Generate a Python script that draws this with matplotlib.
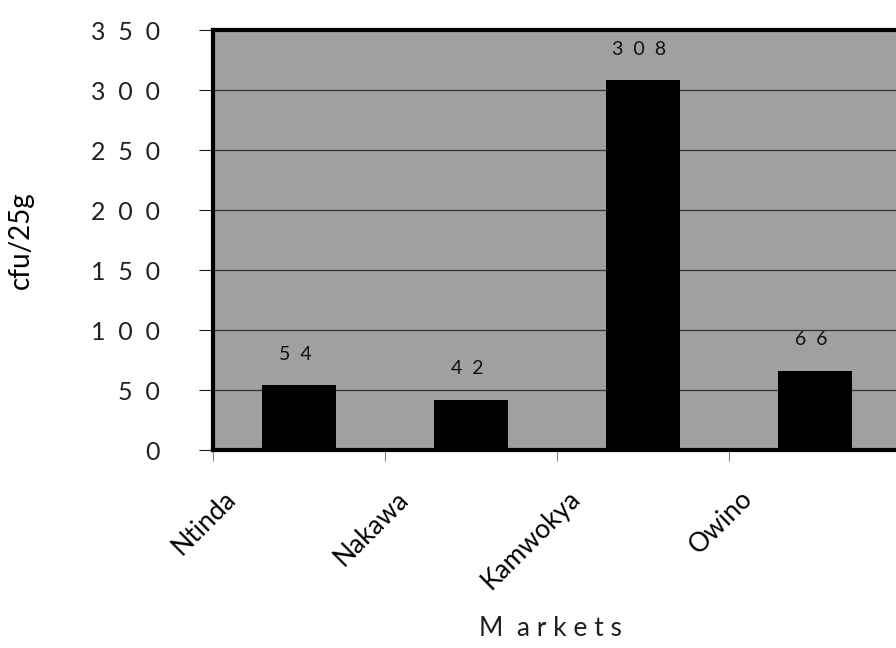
import matplotlib.pyplot as plt
from matplotlib.ticker import FixedLocator

markets = ['Ntinda', 'Nakawa', 'Kamwokya', 'Owino']
counts = [54, 42, 308, 66]
y_ticks = [0, 50, 100, 150, 200, 250, 300, 350]


def spaced(s, gap='  '):
    return gap.join(str(s))


fig = plt.figure(figsize=(8.96, 6.48), dpi=100)
# plot area runs a little past the right edge, as in the scanned page
ax = fig.add_axes([213 / 896, 198 / 648, 688 / 896, 420 / 648])
ax.set_facecolor('#a0a0a0')

x = [i + 0.5 for i in range(len(markets))]
ax.bar(x, counts, width=0.43, color='black', zorder=3)
for xi, v in zip(x, counts):
    ax.text(xi - 0.02, v + 26, spaced(v), ha='center', va='center',
            fontsize=14, family='Lato', color='#111111', zorder=4)

ax.set_xlim(0, 4)
ax.set_ylim(0, 350)
ax.set_yticks(y_ticks)
ax.set_yticklabels([spaced(t) for t in y_ticks], fontsize=18, family='Lato')
ax.yaxis.grid(True, color='#333333', linewidth=0.9, zorder=1)
ax.tick_params(axis='y', length=10, width=0.8, pad=28, colors='#222222')

# tick marks sit on category borders, names hang off the left border
ax.xaxis.set_major_locator(FixedLocator([0, 1, 2, 3]))
ax.set_xticklabels([])
ax.tick_params(axis='x', which='major', length=8, width=0.8, color='#888888')
ax.xaxis.set_minor_locator(FixedLocator([i + 0.06 for i in range(len(markets))]))
ax.set_xticklabels(markets, minor=True, rotation=45, ha='right', va='top',
                   rotation_mode='anchor', fontsize=19, family='Lato')
ax.tick_params(axis='x', which='minor', length=0, pad=26)

for side in ['left', 'top', 'bottom']:
    ax.spines[side].set_linewidth(3)
ax.spines['right'].set_visible(False)

fig.text(550 / 896, 1 - 628 / 648, 'M  a r k e t s', ha='center', va='center',
         fontsize=19, family='Lato', color='#222222')
fig.text(21 / 896, 1 - 240 / 648, 'cfu/25g', rotation=90, ha='center',
         va='center', fontsize=20, family='Lato')

plt.savefig('out.png', dpi=100)
